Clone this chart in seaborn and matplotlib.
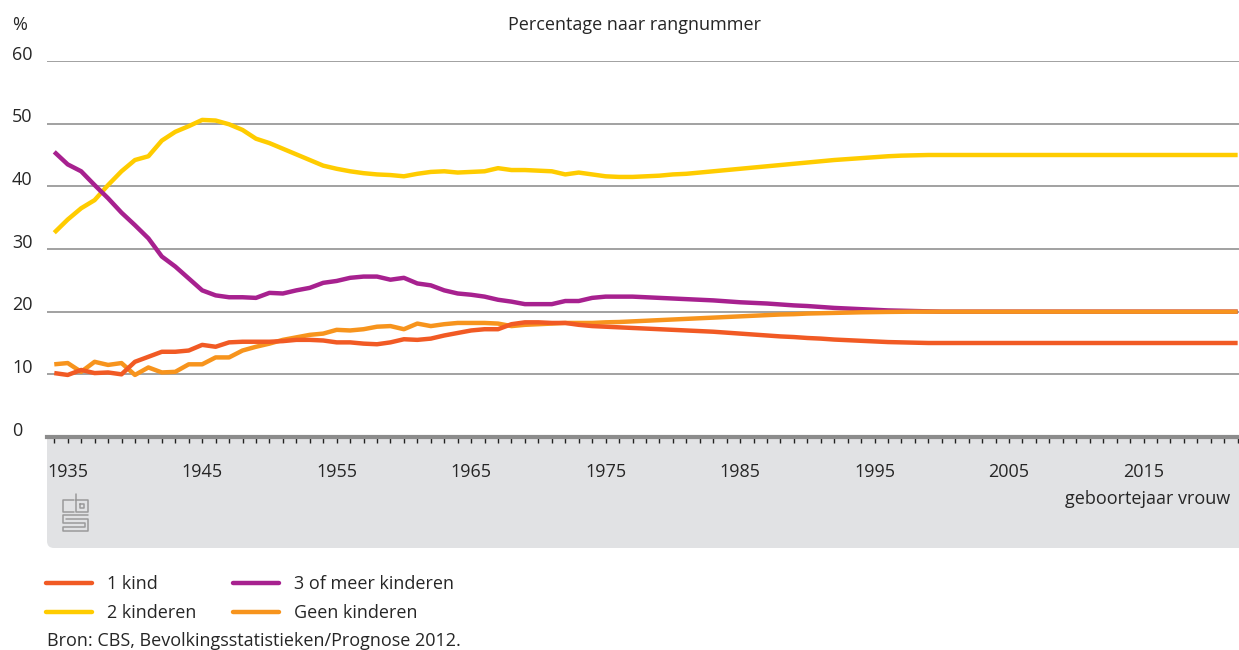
import numpy as np
import pandas as pd
import seaborn as sns
import matplotlib.pyplot as plt
from matplotlib.patches import FancyBboxPatch, Rectangle
from matplotlib.lines import Line2D
import matplotlib.transforms as mtransforms

# Data: share of women by number of children, per birth year of the woman
years = list(range(1934, 2023))

een_kind = [10.2, 9.9, 10.7, 10.2, 10.3, 10.0, 12.0, 12.8, 13.6, 13.6,
            13.8, 14.7, 14.4, 15.1, 15.2, 15.2, 15.2, 15.3, 15.5, 15.5,
            15.4, 15.1, 15.1, 14.9, 14.8, 15.1, 15.6, 15.5, 15.7, 16.2,
            16.6, 17.0, 17.2, 17.2, 18.0, 18.3, 18.3, 18.2, 18.2, 17.9,
            17.7, 17.6, 17.5, 17.4, 17.3, 17.2, 17.1, 17.0, 16.9, 16.8,
            16.65, 16.5, 16.35, 16.2, 16.05, 15.95, 15.8, 15.7, 15.55, 15.45,
            15.35, 15.25, 15.15, 15.1, 15.05, 15.0, 15.0, 15.0, 15.0, 15.0,
            15.0, 15.0, 15.0, 15.0, 15.0, 15.0, 15.0, 15.0, 15.0, 15.0,
            15.0, 15.0, 15.0, 15.0, 15.0, 15.0, 15.0, 15.0, 15.0]

twee_kinderen = [32.6, 34.7, 36.5, 37.8, 40.2, 42.4, 44.2, 44.8, 47.3, 48.7,
                 49.6, 50.6, 50.5, 49.9, 49.0, 47.6, 46.9, 46.0, 45.1, 44.2,
                 43.3, 42.8, 42.4, 42.1, 41.9, 41.8, 41.6, 42.0, 42.3, 42.4,
                 42.2, 42.3, 42.4, 42.9, 42.6, 42.6, 42.5, 42.4, 41.9, 42.2,
                 41.9, 41.6, 41.5, 41.5, 41.6, 41.7, 41.9, 42.0, 42.2, 42.4,
                 42.6, 42.8, 43.0, 43.2, 43.4, 43.6, 43.8, 44.0, 44.2, 44.35,
                 44.5, 44.65, 44.8, 44.9, 44.95, 45.0, 45.0, 45.0, 45.0, 45.0,
                 45.0, 45.0, 45.0, 45.0, 45.0, 45.0, 45.0, 45.0, 45.0, 45.0,
                 45.0, 45.0, 45.0, 45.0, 45.0, 45.0, 45.0, 45.0, 45.0]

drie_of_meer = [45.5, 43.5, 42.4, 40.2, 38.1, 35.8, 33.8, 31.7, 28.8, 27.2,
                25.3, 23.4, 22.6, 22.3, 22.3, 22.2, 23.0, 22.9, 23.4, 23.8,
                24.6, 24.9, 25.4, 25.6, 25.6, 25.1, 25.4, 24.5, 24.2, 23.4,
                22.9, 22.7, 22.4, 21.9, 21.6, 21.2, 21.2, 21.2, 21.7, 21.7,
                22.2, 22.4, 22.4, 22.4, 22.3, 22.2, 22.1, 22.0, 21.9, 21.8,
                21.65, 21.5, 21.4, 21.3, 21.15, 21.0, 20.9, 20.75, 20.6, 20.5,
                20.4, 20.3, 20.2, 20.15, 20.1, 20.05, 20.0, 20.0, 20.0, 20.0,
                20.0, 20.0, 20.0, 20.0, 20.0, 20.0, 20.0, 20.0, 20.0, 20.0,
                20.0, 20.0, 20.0, 20.0, 20.0, 20.0, 20.0, 20.0, 20.0]

geen_kinderen = [11.6, 11.8, 10.4, 12.0, 11.5, 11.8, 9.9, 11.1, 10.3, 10.4,
                 11.6, 11.6, 12.7, 12.7, 13.8, 14.4, 14.9, 15.5, 15.9, 16.3,
                 16.5, 17.1, 17.0, 17.2, 17.6, 17.7, 17.2, 18.1, 17.7, 18.0,
                 18.2, 18.2, 18.2, 18.1, 17.7, 17.9, 18.0, 18.1, 18.2, 18.2,
                 18.2, 18.3, 18.35, 18.45, 18.55, 18.65, 18.75, 18.85, 18.95, 19.05,
                 19.15, 19.25, 19.35, 19.45, 19.55, 19.6, 19.7, 19.75, 19.8, 19.85,
                 19.9, 19.93, 19.96, 19.98, 20.0, 20.0, 20.0, 20.0, 20.0, 20.0,
                 20.0, 20.0, 20.0, 20.0, 20.0, 20.0, 20.0, 20.0, 20.0, 20.0,
                 20.0, 20.0, 20.0, 20.0, 20.0, 20.0, 20.0, 20.0, 20.0]

labels = ['1 kind', '2 kinderen', '3 of meer kinderen', 'Geen kinderen']
colors = ['#f15a24', '#ffcc00', '#a7218f', '#f7941d']
y_ticks = [0, 10, 20, 30, 40, 50, 60]
x_labels = [1935, 1945, 1955, 1965, 1975, 1985, 1995, 2005, 2015]

df = pd.DataFrame({'jaar': years, labels[0]: een_kind, labels[1]: twee_kinderen,
                   labels[2]: drie_of_meer, labels[3]: geen_kinderen})

sns.set_style('white')
plt.rcParams['font.family'] = ['Open Sans', 'DejaVu Sans']
plt.rcParams['font.size'] = 13

W, H = 1239, 650
fig = plt.figure(figsize=(W / 100, H / 100), dpi=100)
ax = fig.add_axes([47 / W, 1 - 437 / H, (W - 47) / W, (437 - 61) / H])
ax.set_facecolor('none')

# grey band below the axis
band = FancyBboxPatch((0.47, 1.02), 13.0, 1.11, boxstyle='round,pad=0,rounding_size=0.07',
                      transform=fig.dpi_scale_trans, facecolor='#e1e2e4', edgecolor='none', zorder=-2)
fig.patches.append(band)
fig.patches.append(Rectangle((0.47, 1.6), 13.0, 0.53, transform=fig.dpi_scale_trans,
                             facecolor='#e1e2e4', edgecolor='none', zorder=-2))

# lines (drawing order: yellow, purple, orange, red on top)
for idx in [1, 2, 3, 0]:
    sns.lineplot(data=df, x='jaar', y=labels[idx], color=colors[idx], lw=3.2, ax=ax,
                 solid_joinstyle='round', solid_capstyle='butt')

ax.set_xlim(1933.46, 2022.1)
ax.set_ylim(0, 60)
ax.set_xlabel('')
ax.set_ylabel('')

# horizontal grid
ax.set_yticks(y_ticks)
ax.set_yticklabels([])
ax.tick_params(axis='y', length=0)
ax.grid(axis='y', color='#9a9a9a', lw=1.3)
ax.grid(axis='x', visible=False)
for s in ['left', 'right', 'top']:
    ax.spines[s].set_visible(False)
ax.spines['bottom'].set_color('#8c8c8c')
ax.spines['bottom'].set_linewidth(3)

trans = mtransforms.blended_transform_factory(fig.transFigure, ax.transData)
for v in y_ticks:
    ax.text(12 / W, v + 0.2, str(v), transform=trans, ha='left', va='baseline', fontsize=13)

# x ticks
ax.set_xticks(x_labels)
ax.set_xticklabels([str(x) for x in x_labels])
ax.set_xticks(years, minor=True)
ax.tick_params(axis='x', which='both', bottom=True, direction='out', length=4.5, width=1,
               color='#222222', pad=14, labelsize=13)

# texts
fig.text(12 / W, 1 - 25 / H, '%', ha='left', va='center', fontsize=13)
fig.text(635 / W, 1 - 25 / H, 'Percentage naar rangnummer', ha='center', va='center', fontsize=13)
fig.text(1230 / W, 1 - 499 / H, 'geboortejaar vrouw', ha='right', va='center', fontsize=13)
fig.text(47 / W, 1 - 641 / H, 'Bron: CBS, Bevolkingsstatistieken/Prognose 2012.',
         ha='left', va='center', fontsize=13)

# cbs logo (simple outline)
def px(x, y):
    return x / 100, (H - y) / 100

logo = [
    [(74, 500), (63, 500), (63, 512), (74, 512)],
    [(76, 494), (76, 512), (88, 512), (88, 500), (76, 500)],
    [(80, 504), (84, 504), (84, 508), (80, 508), (80, 504)],
    [(88, 515), (63, 515), (63, 523), (85, 523), (85, 527), (63, 527), (63, 531), (88, 531), (88, 519), (66, 519)],
]
for seg in logo:
    xs, ys = zip(*[px(a, b) for a, b in seg])
    fig.lines.append(Line2D(xs, ys, transform=fig.dpi_scale_trans, color='#9a9a9a', lw=1.1))

# legend
handles = [Line2D([], [], color=c, lw=3.2) for c in colors]
fig.legend(handles, labels, ncol=2, loc='upper left', bbox_to_anchor=(46 / W, 1 - 575 / H),
           frameon=False, borderpad=0, borderaxespad=0, handlelength=2.55, handletextpad=0.85,
           columnspacing=2.0, labelspacing=0.62, fontsize=13)

plt.savefig('out.png', dpi=100)
